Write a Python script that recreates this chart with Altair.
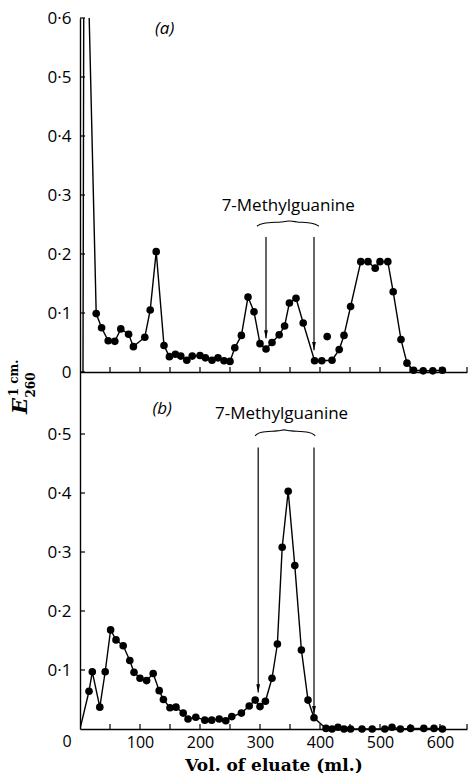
import altair as alt
import pandas as pd

# ---------------- data ----------------
# panel (a): off-scale leading peak (no markers), then the measured fractions
a_lead_x = [5, 6.4, 13]
a_lead_y = [0.0, 0.7, 0.7]
a_x = [27, 36, 47, 58, 68, 81, 89, 108, 117, 127,
       140, 149, 159, 168, 178, 187, 200, 209, 220, 230,
       240, 250, 258, 269, 280, 290, 300, 310, 320, 332,
       341, 349, 360, 372, 391, 403, 420, 432, 440, 451,
       468, 480, 492, 500, 513, 522, 535, 545, 556, 572,
       588, 604]
a_y = [0.099, 0.075, 0.053, 0.052, 0.073, 0.064, 0.043, 0.059, 0.105, 0.204,
       0.045, 0.026, 0.030, 0.027, 0.020, 0.027, 0.028, 0.024, 0.020, 0.024,
       0.019, 0.018, 0.041, 0.062, 0.127, 0.102, 0.048, 0.039, 0.050, 0.063,
       0.078, 0.117, 0.125, 0.083, 0.019, 0.019, 0.020, 0.038, 0.062, 0.111,
       0.187, 0.187, 0.176, 0.187, 0.187, 0.136, 0.055, 0.015, 0.003, 0.002,
       0.002, 0.003]
a_stray_x = [412]
a_stray_y = [0.060]

# panel (b)
b_lead_x = [0]
b_lead_y = [0.0]
b_x = [15, 20.5, 33, 42, 51, 60, 72, 83, 90, 100,
       111, 122, 132, 139, 150, 160, 172, 180, 193, 208,
       219.5, 232, 243, 253, 269, 282, 292, 300, 309, 320,
       329, 337, 347, 358, 369, 380, 390, 410, 420, 430,
       440, 451, 470, 487, 508, 520, 534, 551, 573, 590,
       604]
b_y = [0.064, 0.097, 0.037, 0.097, 0.168, 0.151, 0.141, 0.116, 0.096, 0.086,
       0.082, 0.094, 0.065, 0.050, 0.036, 0.037, 0.027, 0.017, 0.020, 0.015,
       0.015, 0.017, 0.014, 0.021, 0.027, 0.039, 0.049, 0.038, 0.047, 0.086,
       0.144, 0.308, 0.403, 0.277, 0.134, 0.049, 0.019, 0.001, 0.000, 0.003,
       0.000, 0.000, 0.000, 0.000, 0.000, 0.003, 0.000, 0.001, 0.001, 0.001,
       0.000]

# axes
y_ticks_a = [0.0, 0.1, 0.2, 0.3, 0.4, 0.5, 0.6]
y_ticks_b = [0.1, 0.2, 0.3, 0.4, 0.5]
x_ticks = [50, 100, 150, 200, 250, 300, 350, 400, 450, 500, 550, 600, 645]
x_labels_b = [100, 200, 300, 400, 500, 600]

# annotations
label_text = "7-Methylguanine"
arrow_a_x = [310, 390]
arrow_a_top = [0.229, 0.229]
arrow_a_tip = [0.057, 0.037]
brace_a_x = [295, 302, 340, 349, 358, 390, 398]
brace_a_y = [0.247, 0.253, 0.254, 0.257, 0.254, 0.253, 0.247]
label_a_x = [347]
label_a_y = [0.281]

arrow_b_x = [297, 390]
arrow_b_top = [0.477, 0.477]
arrow_b_tip = [0.062, 0.025]
brace_b_x = [292, 298, 332, 340, 348, 385, 392]
brace_b_y = [0.497, 0.504, 0.505, 0.508, 0.505, 0.504, 0.497]
label_b_x = [336]
label_b_y = [0.534]

# ---------------- chart ----------------
W = 387
HA = 354
HB = 357
SANS = "Open Sans"
SERIF = "DejaVu Serif"
INK = "black"
FS = 16

xscale = alt.Scale(domain=[0, 645], nice=False, zero=False)
yscale_a = alt.Scale(domain=[0, 0.6], nice=False, zero=False)
yscale_b = alt.Scale(domain=[0, 0.6051], nice=False, zero=False)

label_expr = "datum.value == 0 ? '0' : replace(format(datum.value, '.1f'), '.', '·')"

xaxis_a = alt.Axis(labels=False, ticks=False, grid=False, title=None,
                   domainColor=INK, domainWidth=1.4)
xaxis_b = alt.Axis(values=x_labels_b, ticks=False, grid=False,
                   labelFont=SANS, labelFontSize=FS, labelColor=INK, labelPadding=5,
                   title="Vol. of eluate (ml.)", titleFont=SERIF, titleFontSize=17,
                   titleFontWeight="bold", titleColor=INK, titlePadding=7,
                   domainColor=INK, domainWidth=1.4)
yaxis_a = alt.Axis(values=y_ticks_a, labelExpr=label_expr, ticks=False, grid=False,
                   title=None, labelFont=SANS, labelFontSize=17, labelColor=INK,
                   labelPadding=9, domainColor=INK, domainWidth=1.4)
yaxis_b = alt.Axis(values=y_ticks_b, labelExpr=label_expr, ticks=False, grid=False,
                   title=None, labelFont=SANS, labelFontSize=17, labelColor=INK,
                   labelPadding=9, domainColor=INK, domainWidth=1.4)


def panel(line_x, line_y, pts_x, pts_y, extra_x, extra_y, yscale, xaxis, yaxis, h,
          yt, arrows_x, arrows_top, arrows_tip, brace_x, brace_y, lab_x, lab_y,
          tag, tag_x, tag_y):
    X = alt.X("x:Q", scale=xscale, axis=xaxis)
    line_df = pd.DataFrame({"x": line_x, "y": line_y})
    pts_df = pd.DataFrame({"x": pts_x + extra_x, "y": pts_y + extra_y})
    Y = alt.Y("y:Q", scale=yscale, axis=yaxis)

    line = alt.Chart(line_df).mark_line(color=INK, strokeWidth=1.4, clip=True).encode(
        x=X, y=Y, order="x:Q")
    pts = alt.Chart(pts_df).mark_point(filled=True, color=INK, size=58, opacity=1).encode(
        x=X, y=Y)

    ytick = alt.Chart(pd.DataFrame({"y": yt})).mark_rule(color=INK, strokeWidth=1.2).encode(
        y=Y, x=alt.value(0), x2=alt.value(5))
    xtick = alt.Chart(pd.DataFrame({"x": x_ticks})).mark_rule(color=INK, strokeWidth=1.2).encode(
        x=X, y=alt.value(h), y2=alt.value(h - 5))

    arr_df = pd.DataFrame({"x": arrows_x, "top": arrows_top, "tip": arrows_tip})
    shafts = alt.Chart(arr_df).mark_rule(color=INK, strokeWidth=1.2).encode(
        x=X, y=alt.Y("top:Q", scale=yscale, axis=yaxis), y2="tip:Q")
    heads = alt.Chart(arr_df).mark_point(
        shape="M -0.45 -1 L 0 1 L 0.45 -1 Z", filled=True, color=INK, size=70, opacity=1,
        yOffset=-4).encode(x=X, y=alt.Y("tip:Q", scale=yscale, axis=yaxis))

    brace = alt.Chart(pd.DataFrame({"x": brace_x, "y": brace_y})).mark_line(
        color=INK, strokeWidth=1.1, interpolate="basis").encode(x=X, y=Y, order="x:Q")

    lab = alt.Chart(pd.DataFrame({"x": lab_x, "y": lab_y, "t": [label_text]})).mark_text(
        font=SANS, fontSize=17, color=INK, align="center", baseline="middle").encode(
        x=X, y=Y, text="t:N")
    tag_mark = alt.Chart(pd.DataFrame({"x": [tag_x], "y": [tag_y], "t": [tag]})).mark_text(
        font=SANS, fontSize=17, fontStyle="italic", color=INK, align="center",
        baseline="middle").encode(x=X, y=Y, text="t:N")

    return [line, pts, ytick, xtick, shafts, heads, brace, lab, tag_mark]


layers_a = panel(a_lead_x + a_x, a_lead_y + a_y, a_x, a_y, a_stray_x, a_stray_y,
                 yscale_a, xaxis_a, yaxis_a, HA, y_ticks_a,
                 arrow_a_x, arrow_a_top, arrow_a_tip, brace_a_x, brace_a_y,
                 label_a_x, label_a_y, "(a)", 141, 0.581)

# y-axis title pieces: E with superscript "1 cm." and subscript "260"
e_mark = alt.Chart(pd.DataFrame({"t": ["E"]})).mark_text(
    font=SERIF, fontSize=21, fontWeight="bold", fontStyle="italic", angle=270,
    align="center", baseline="middle", color=INK).encode(
    x=alt.value(-59), y=alt.value(388), text="t:N")
sup_mark = alt.Chart(pd.DataFrame({"t": ["1 cm."]})).mark_text(
    font=SERIF, fontSize=12, fontWeight="bold", angle=270,
    align="center", baseline="middle", color=INK).encode(
    x=alt.value(-66), y=alt.value(360), text="t:N")
sub_mark = alt.Chart(pd.DataFrame({"t": ["260"]})).mark_text(
    font=SERIF, fontSize=12, fontWeight="bold", angle=270,
    align="center", baseline="middle", color=INK).encode(
    x=alt.value(-49), y=alt.value(367), text="t:N")

chart_a = alt.layer(*layers_a, e_mark, sup_mark, sub_mark).properties(width=W, height=HA)

layers_b = panel(b_lead_x + b_x, b_lead_y + b_y, b_x, b_y, [], [],
                 yscale_b, xaxis_b, yaxis_b, HB, y_ticks_b,
                 arrow_b_x, arrow_b_top, arrow_b_tip, brace_b_x, brace_b_y,
                 label_b_x, label_b_y, "(b)", 137, 0.542)
zero_lab = alt.Chart(pd.DataFrame({"x": [0], "t": ["0"]})).mark_text(
    font=SANS, fontSize=FS, color=INK, align="center", baseline="top", dx=-13).encode(
    x=alt.X("x:Q", scale=xscale, axis=xaxis_b), y=alt.value(HB + 5), text="t:N")

chart_b = alt.layer(*layers_b, zero_lab).properties(width=W, height=HB)

chart = alt.vconcat(chart_a, chart_b, spacing=0, bounds="flush").properties(
    padding={"left": 8, "top": 9, "right": 0, "bottom": 0},
    background="white",
).configure_view(stroke=None)

chart.save("out.html", embed_options={"renderer": "svg", "actions": False})
